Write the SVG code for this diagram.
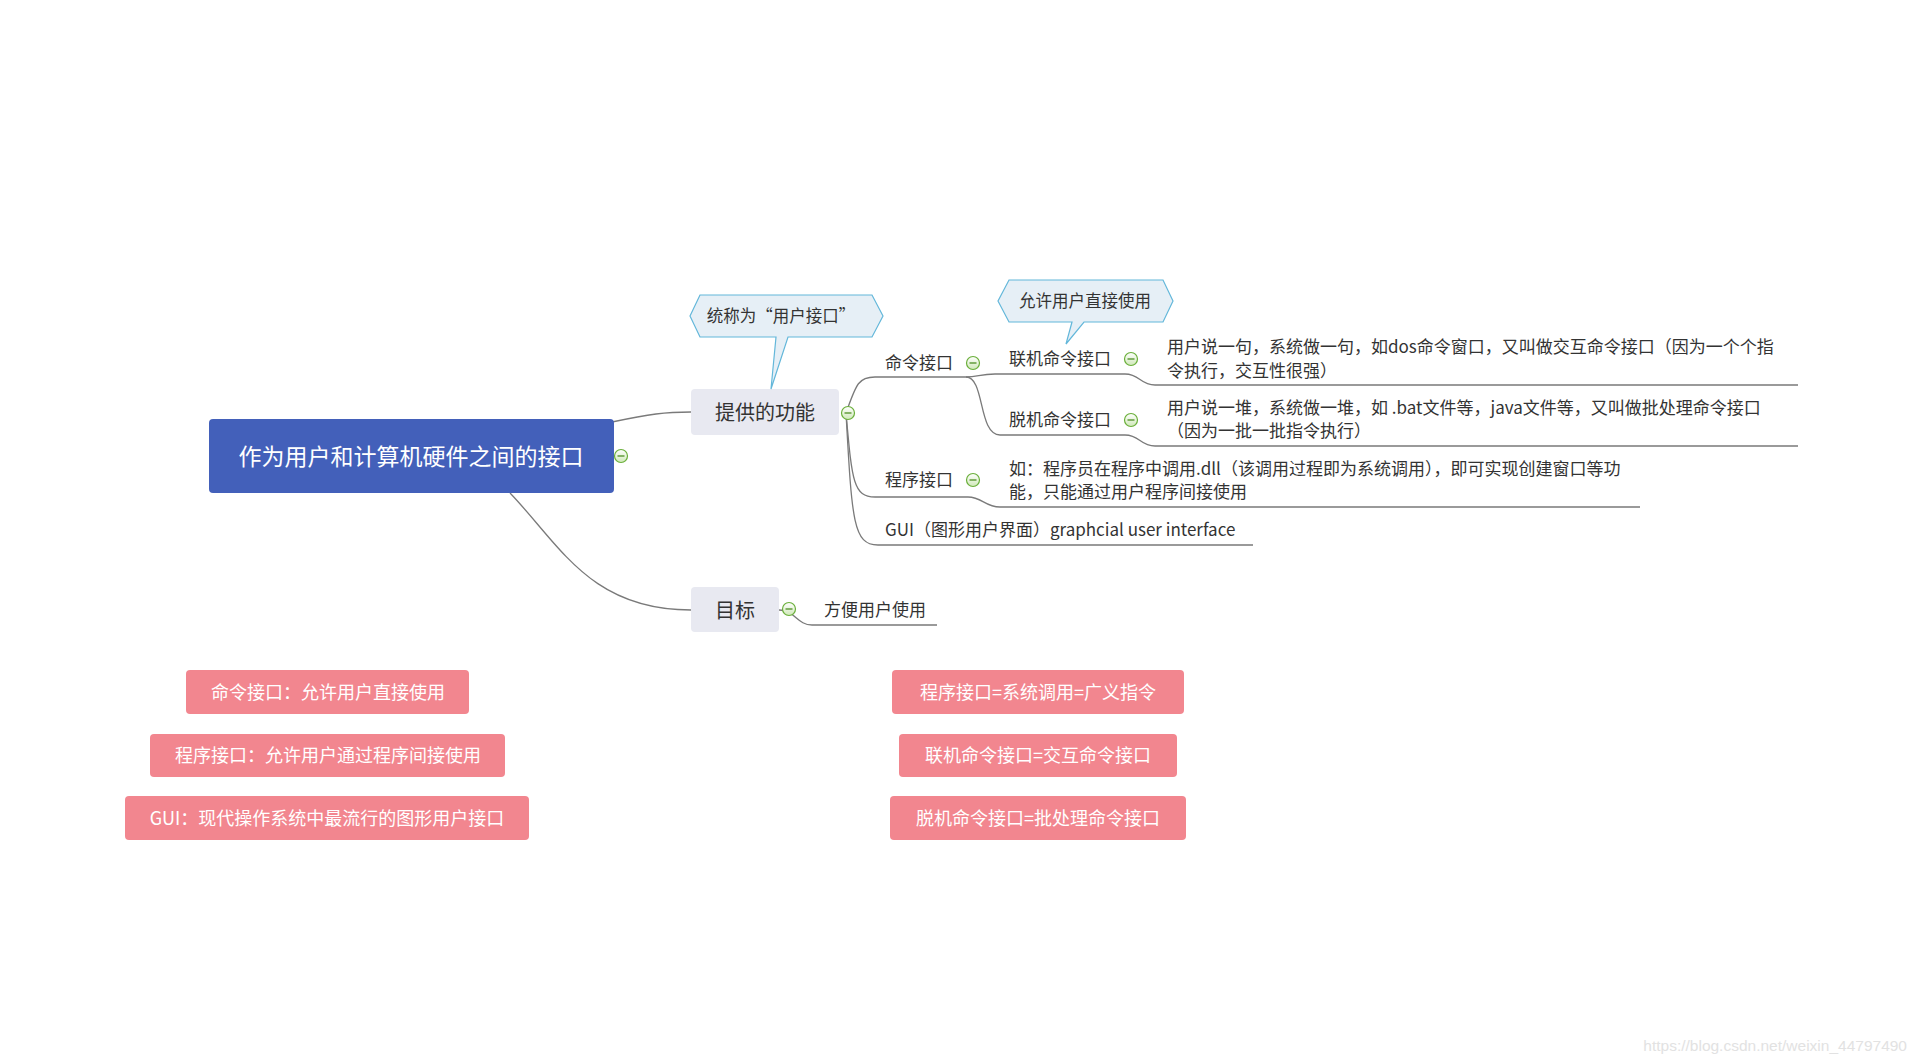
<svg xmlns="http://www.w3.org/2000/svg" width="1917" height="1064" viewBox="0 0 1917 1064">
<style>
text{font-family:"Noto Sans CJK SC","Microsoft YaHei",sans-serif;dominant-baseline:central}
.t{fill:#333;font-size:17px}
.root{fill:#fff;font-size:23px;text-anchor:middle}
.mid{fill:#333;font-size:20px;text-anchor:middle}
.call{fill:#E6EFF6;stroke:#63B7DA;stroke-width:1.2}
.ct{fill:#333;font-size:16.5px;text-anchor:middle}
.pink{fill:#F2868F}
.pt{fill:#fff;font-size:18px;text-anchor:middle}
.conn path{fill:none;stroke:#7a7a7a;stroke-width:1.3}
.btn circle{fill:url(#g);stroke:#6AAF3A;stroke-width:1.2}
.btn path{fill:none;stroke:#4E8E24;stroke-width:1.3}
</style>
<defs>
<linearGradient id="g" x1="0" y1="0" x2="0" y2="1"><stop offset="0" stop-color="#ffffff"/><stop offset="1" stop-color="#cfe8b8"/></linearGradient>
</defs>
<rect width="1917" height="1064" fill="#fff"/>
<g class="conn" id="connectors">
<path d="M612 422C650 414 665 412 691 412"/>
<path d="M510 493C560 545 590 610 691 610"/>
<path d="M846 413C856 385 858 377 875 377L966 377"/>
<path d="M966 377C978 377 980 374 995 374L1125 374C1140 374 1140 385 1155 385L1798 385"/>
<path d="M966 377C985 377 978 435 1000 435L1125 435C1140 435 1140 446 1155 446L1798 446"/>
<path d="M846 413C852 480 853 497 875 497L968 497C982 497 985 507 1000 507L1640 507"/>
<path d="M846 413C852 520 853 545 878 545L1253 545"/>
<path d="M779 610C795 610 797 625 812 625L937 625"/>
</g>
<g id="root"><rect x="209" y="419" width="405" height="74" rx="4" fill="#4360BA"/><text class="root" x="411" y="455">作为用户和计算机硬件之间的接口</text></g>
<g id="provide"><rect x="691" y="389" width="148" height="46" rx="4" fill="#E8E9F1"/><text class="mid" x="765" y="411">提供的功能</text></g>
<g id="goal"><rect x="691" y="587" width="88" height="45" rx="4" fill="#E8E9F1"/><text class="mid" x="735" y="609">目标</text></g>
<g id="callout1"><polygon class="call" points="700,295 872,295 883,316 872,337 788,337 771,389 776,337 700,337 690,316"/><text class="ct" x="781" y="315">统称为“用户接口”</text></g>
<g id="callout2"><polygon class="call" points="1009,280 1163,280 1173,301 1163,322 1084,322 1066,344 1072,322 1009,322 998,301"/><text class="ct" x="1085" y="300">允许用户直接使用</text></g>
<g id="cmd"><text class="t" x="885" y="361.5">命令接口</text></g>
<g id="online"><text class="t" x="1009" y="357.5">联机命令接口</text></g>
<g id="offline"><text class="t" x="1009" y="418.5">脱机命令接口</text></g>
<g id="prog"><text class="t" x="885" y="478.5">程序接口</text></g>
<g id="gui"><text class="t" x="885" y="528">GUI（图形用户界面）graphcial user interface</text></g>
<g id="online-detail"><text class="t" x="1167" y="345.5">用户说一句，系统做一句，如dos命令窗口，又叫做交互命令接口（因为一个个指</text><text class="t" x="1167" y="369.5">令执行，交互性很强）</text></g>
<g id="offline-detail"><text class="t" x="1167" y="406.5">用户说一堆，系统做一堆，如 .bat文件等，java文件等，又叫做批处理命令接口</text><text class="t" x="1167" y="429.5">（因为一批一批指令执行）</text></g>
<g id="prog-detail"><text class="t" x="1009" y="467.5">如：程序员在程序中调用.dll（该调用过程即为系统调用），即可实现创建窗口等功</text><text class="t" x="1009" y="490.5">能，只能通过用户程序间接使用</text></g>
<g id="goal-detail"><text class="t" x="824" y="608">方便用户使用</text></g>
<g class="btn" id="buttons">
<circle cx="621" cy="456" r="6.5"/><path d="M617.5 456h7"/>
<circle cx="848" cy="413" r="6.5"/><path d="M844.5 413h7"/>
<circle cx="973" cy="363" r="6.5"/><path d="M969.5 363h7"/>
<circle cx="1131" cy="359" r="6.5"/><path d="M1127.5 359h7"/>
<circle cx="1131" cy="420" r="6.5"/><path d="M1127.5 420h7"/>
<circle cx="973" cy="480" r="6.5"/><path d="M969.5 480h7"/>
<circle cx="789" cy="609" r="6.5"/><path d="M785.5 609h7"/>
</g>
<g id="note1"><rect class="pink" x="186" y="670" width="283" height="44" rx="4"/><text class="pt" x="328" y="691">命令接口：允许用户直接使用</text></g>
<g id="note2"><rect class="pink" x="150" y="734" width="355" height="43" rx="4"/><text class="pt" x="328" y="754">程序接口：允许用户通过程序间接使用</text></g>
<g id="note3"><rect class="pink" x="125" y="796" width="404" height="44" rx="4"/><text class="pt" x="327" y="817">GUI：现代操作系统中最流行的图形用户接口</text></g>
<g id="note4"><rect class="pink" x="892" y="670" width="292" height="44" rx="4"/><text class="pt" x="1038" y="691">程序接口=系统调用=广义指令</text></g>
<g id="note5"><rect class="pink" x="899" y="734" width="278" height="43" rx="4"/><text class="pt" x="1038" y="754">联机命令接口=交互命令接口</text></g>
<g id="note6"><rect class="pink" x="890" y="796" width="296" height="44" rx="4"/><text class="pt" x="1038" y="817">脱机命令接口=批处理命令接口</text></g>
<text x="1907" y="1045" style="font-family:'Liberation Sans',Arial,sans-serif;font-size:15.5px;fill:#E2E2E2;text-anchor:end">https://blog.csdn.net/weixin_44797490</text>
</svg>
